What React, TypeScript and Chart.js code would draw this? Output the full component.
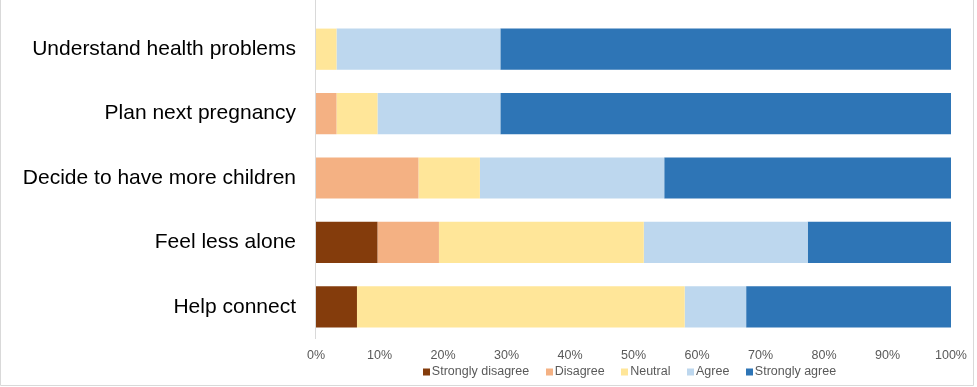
import React, { useEffect, useRef } from "react";
import { Chart, registerables } from "chart.js";

Chart.register(...registerables);

const categories = [
  "Understand health problems",
  "Plan next pregnancy",
  "Decide to have more children",
  "Feel less alone",
  "Help connect",
];
const seriesNames = ["Strongly disagree", "Disagree", "Neutral", "Agree", "Strongly agree"];
const stronglyDisagree = [0, 0, 0, 9.68, 6.45];
const disagree = [0, 3.23, 16.13, 9.68, 0];
const neutral = [3.23, 6.45, 9.68, 32.26, 51.61];
const agree = [25.8, 19.35, 29.03, 25.81, 9.68];
const stronglyAgree = [70.97, 70.97, 45.16, 22.57, 32.26];
const xTickValues = [0, 10, 20, 30, 40, 50, 60, 70, 80, 90, 100];
const seriesColors = ["#843c0c", "#f4b183", "#ffe699", "#bdd7ee", "#2e75b6"];

const FONT = '"Liberation Sans", Arial, Helvetica, sans-serif';

const decorPlugin = {
  id: "decor",
  beforeDraw(chart: any) {
    const { ctx, width, height } = chart;
    ctx.save();
    ctx.fillStyle = "#ffffff";
    ctx.fillRect(0, 0, width, height);
    ctx.strokeStyle = "#d9d9d9";
    ctx.lineWidth = 1;
    ctx.beginPath();
    ctx.moveTo(0.5, 0);
    ctx.lineTo(0.5, 385.5);
    ctx.lineTo(973.5, 385.5);
    ctx.lineTo(973.5, 0);
    ctx.stroke();
    ctx.restore();
  },
  beforeDatasetsDraw(chart: any) {
    const { ctx, chartArea } = chart;
    ctx.save();
    ctx.strokeStyle = "#d9d9d9";
    ctx.lineWidth = 1;
    const x = Math.round(chartArea.left) - 0.5;
    ctx.beginPath();
    ctx.moveTo(x, 0);
    ctx.lineTo(x, chartArea.bottom);
    ctx.stroke();
    ctx.restore();
  },
  afterDraw(chart: any) {
    const { ctx, chartArea } = chart;
    ctx.save();
    ctx.font = `12.5px ${FONT}`;
    ctx.textBaseline = "middle";
    const box = 7;
    const gapText = 9;
    const gapItem = 16.5;
    const widths = seriesNames.map((n) => ctx.measureText(n).width);
    const total =
      widths.reduce((a, b) => a + b, 0) + seriesNames.length * gapText + (seriesNames.length - 1) * gapItem;
    let x = (chartArea.left + chartArea.right) / 2 - 4 - total / 2;
    const y = 372;
    seriesNames.forEach((n, i) => {
      ctx.fillStyle = seriesColors[i];
      ctx.fillRect(Math.round(x), y - 3.5, box, box);
      ctx.fillStyle = "#595959";
      ctx.textAlign = "left";
      ctx.fillText(n, x + gapText, y);
      x += gapText + widths[i] + gapItem;
    });
    ctx.restore();
  },
};

export default function App() {
  const ref = useRef<HTMLCanvasElement | null>(null);

  useEffect(() => {
    document.body.style.margin = "0";
    const canvas = ref.current;
    if (!canvas) return;
    const data = [stronglyDisagree, disagree, neutral, agree, stronglyAgree];
    const chart = new Chart(canvas, {
      type: "bar",
      data: {
        labels: categories,
        datasets: seriesNames.map((name, i) => ({
          label: name,
          data: data[i],
          backgroundColor: seriesColors[i],
          borderWidth: 0,
          barPercentage: 0.64,
          categoryPercentage: 1,
        })),
      },
      options: {
        indexAxis: "y",
        responsive: false,
        animation: false,
        devicePixelRatio: 1,
        layout: { padding: { top: 17, right: 26, left: 0, bottom: 0 } },
        plugins: {
          legend: { display: false },
          tooltip: { enabled: false },
          title: { display: false },
        },
        scales: {
          x: {
            stacked: true,
            min: 0,
            max: 100,
            grid: { display: false, drawTicks: false },
            border: { display: false },
            afterBuildTicks(scale: any) {
              scale.ticks = xTickValues.map((v) => ({ value: v }));
            },
            afterFit(scale: any) {
              scale.height = 48;
              scale.paddingLeft = 0;
              scale.paddingRight = 0;
            },
            ticks: {
              autoSkip: false,
              maxRotation: 0,
              padding: 9,
              color: "#595959",
              font: { family: FONT, size: 12.5 },
              callback: (v: any) => `${v}%`,
            },
          },
          y: {
            stacked: true,
            grid: { display: false, drawTicks: false },
            border: { display: false },
            afterFit(scale: any) {
              scale.width = 316;
              scale.paddingTop = 0;
              scale.paddingBottom = 0;
            },
            ticks: {
              padding: 20,
              color: "#000000",
              font: { family: FONT, size: 21 },
            },
          },
        },
      },
      plugins: [decorPlugin],
    });
    return () => chart.destroy();
  }, []);

  return (
    <div style={{ position: "absolute", left: 0, top: 0, width: 977, height: 387 }}>
      <canvas ref={ref} width={977} height={387} style={{ width: 977, height: 387, display: "block" }} />
    </div>
  );
}
